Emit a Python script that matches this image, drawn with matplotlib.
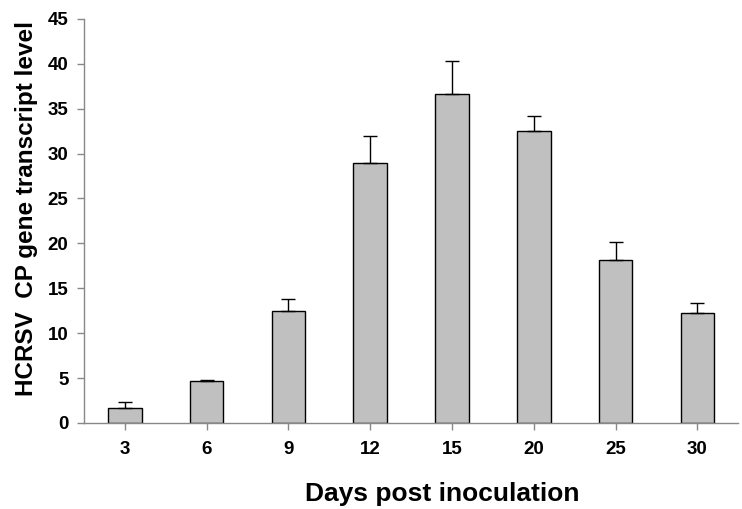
import matplotlib
matplotlib.use("Agg")
import matplotlib.pyplot as plt
import numpy as np

days = ["3", "6", "9", "12", "15", "20", "25", "30"]
levels = [1.7, 4.65, 12.5, 29.0, 36.6, 32.5, 18.2, 12.2]
errors = [0.6, 0.1, 1.3, 3.0, 3.7, 1.7, 1.9, 1.2]

plt.rcParams['font.family'] = ['Liberation Sans', 'DejaVu Sans']
plt.rcParams['font.weight'] = 'bold'

fig = plt.figure(figsize=(7.42, 5.09), dpi=100)
ax = fig.add_axes([0.113, 0.169, 0.882, 0.794])

x = np.arange(len(days))
ax.bar(x, levels, width=0.41, color='#c0c0c0', edgecolor='black', linewidth=1.0,
       yerr=[np.zeros(len(errors)), errors], capsize=5,
       error_kw=dict(ecolor='black', elinewidth=1.0, capthick=1.0))

ax.set_xlim(-0.5, len(days) - 0.5)
ax.set_ylim(0, 45)
ax.set_yticks(np.arange(0, 46, 5))
ax.set_xticks(x)
ax.set_xticklabels(days)

for s in ['top', 'right']:
    ax.spines[s].set_visible(False)
for s in ['left', 'bottom']:
    ax.spines[s].set_color('#888888')
    ax.spines[s].set_linewidth(1.0)
ax.tick_params(axis='both', colors='#888888', labelcolor='black', labelsize=13.5,
               length=5, width=1.0)
ax.tick_params(axis='x', pad=8)
ax.tick_params(axis='y', pad=6)
for lab in ax.get_xticklabels() + ax.get_yticklabels():
    lab.set_fontweight('bold')

ax.set_xlabel("Days post inoculation", fontsize=19, fontweight='bold')
ax.set_ylabel("HCRSV  CP gene transcript level", fontsize=17.5, fontweight='bold')
ax.xaxis.set_label_coords(0.547, -0.145)
ax.yaxis.set_label_coords(-0.07, 0.53)

fig.savefig("out.png", dpi=100)
